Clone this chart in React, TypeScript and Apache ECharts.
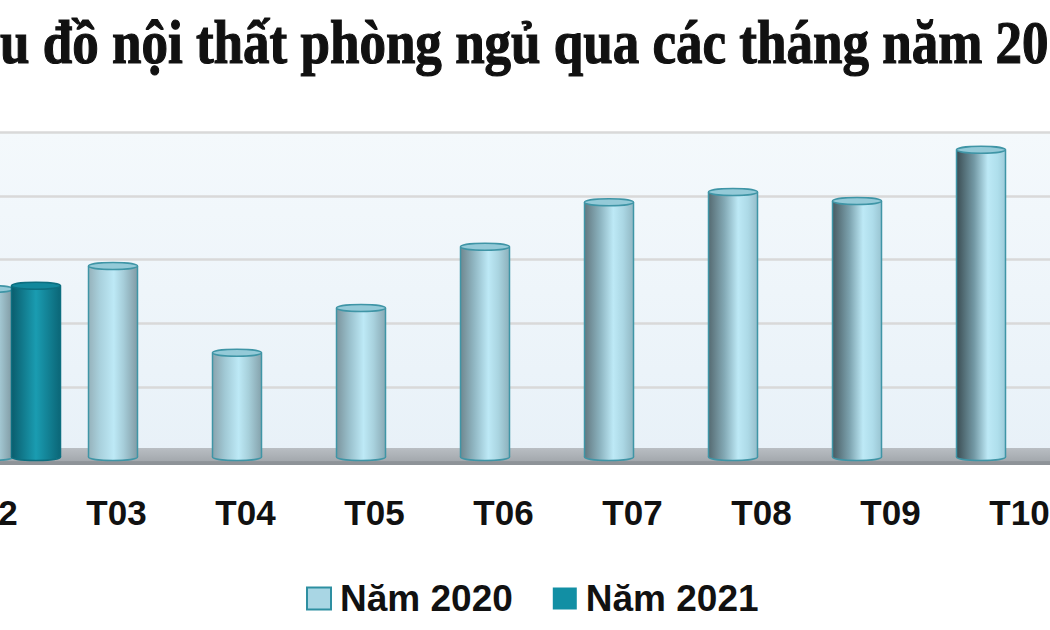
import React, { useEffect, useRef } from "react";
import * as echarts from "echarts";

const categories = ["T02", "T03", "T04", "T05", "T06", "T07", "T08", "T09", "T10", "T11"];
const values2020: (number | null)[] = [254, 290, 154, 224, 320, 390, 406, 392, 472, null];
const values2021: (number | null)[] = [259, null, null, null, null, null, null, null, null, null];
const seriesNames = ["Năm 2020", "Năm 2021"];
const titleText = "u đồ nội thất phòng ngủ qua các tháng năm 20";
const yMin = 0;
const yMax = 500;
const yInterval = 100;

const OFFSET = 200;

function hexToRgb(h: string) {
  const n = parseInt(h.slice(1), 16);
  return [(n >> 16) & 255, (n >> 8) & 255, n & 255];
}
function lerpColor(a: string, b: string, t: number) {
  const A = hexToRgb(a);
  const B = hexToRgb(b);
  const c = A.map((v, i) => Math.round(v + (B[i] - v) * t));
  return `rgb(${c[0]},${c[1]},${c[2]})`;
}

function makeRender(kind: number, offset: number) {
  return (params: any, api: any) => {
    const idx = api.value(0);
    const val = api.value(1);
    if (val == null || isNaN(val)) return null;
    const top = api.coord([idx, val]);
    const base = api.coord([idx, 0]);
    const cx = top[0] + offset;
    const w = 49;
    const x0 = cx - w / 2;
    const baseY = base[1] + 6;
    const ry = 3.5;
    const t = Math.max(0, Math.min(1, (cx - OFFSET) / 1050));
    let fill: any;
    let border: string;
    let cap: string;
    if (kind === 0) {
      const hl = 0.5 + 0.15 * t;
      fill = {
        type: "linear", x: 0, y: 0, x2: 1, y2: 0,
        colorStops: [
          { offset: 0, color: lerpColor("#a2bfc9", "#34454b", t) },
          { offset: Math.max(0.05, hl - 0.28), color: lerpColor("#b0d8e4", "#6f95a1", t) },
          { offset: hl, color: "#bde9f6" },
          { offset: Math.min(0.95, hl + 0.2), color: lerpColor("#a5cbd6", "#b0e0ee", t) },
          { offset: 1, color: lerpColor("#7d959e", "#9fcfdd", t) },
        ],
      };
      border = "#3f95a6";
      cap = "#94cad8";
    } else {
      fill = {
        type: "linear", x: 0, y: 0, x2: 1, y2: 0,
        colorStops: [
          { offset: 0, color: "#0a5d6d" },
          { offset: 0.5, color: "#1a9cb1" },
          { offset: 1, color: "#0b6677" },
        ],
      };
      border = "#0d6f80";
      cap = "#13889c";
    }
    return {
      type: "group",
      children: [
        { type: "ellipse", shape: { cx, cy: baseY, rx: w / 2, ry }, style: { fill, stroke: border, lineWidth: 1.5 } },
        { type: "rect", shape: { x: x0, y: top[1], width: w, height: baseY - top[1] }, style: { fill } },
        { type: "line", shape: { x1: x0, y1: top[1], x2: x0, y2: baseY }, style: { stroke: border, lineWidth: 1.5 } },
        { type: "line", shape: { x1: x0 + w, y1: top[1], x2: x0 + w, y2: baseY }, style: { stroke: border, lineWidth: 1.5 } },
        { type: "ellipse", shape: { cx, cy: top[1], rx: w / 2, ry }, style: { fill: cap, stroke: border, lineWidth: 1.5 } },
      ],
    };
  };
}

export default function App() {
  const ref = useRef<HTMLDivElement>(null);
  useEffect(() => {
    if (!ref.current) return;
    const chart = echarts.init(ref.current, null, { renderer: "svg" });
    const option: any = {
      animation: false,
      backgroundColor: "#ffffff",
      grid: [
        {
          left: OFFSET - 73,
          width: 1240,
          top: 132,
          height: 319,
          show: true,
          borderWidth: 0,
          backgroundColor: {
            type: "linear", x: 0, y: 0, x2: 0, y2: 1,
            colorStops: [
              { offset: 0, color: "#f4f9fc" },
              { offset: 1, color: "#e8f1f8" },
            ],
          },
        },
        {
          // perspective label row: labels drift right as in the 3D original
          left: OFFSET - 77,
          width: 1290,
          top: 132,
          height: 319,
          show: false,
        },
      ],
      legend: {
        left: OFFSET + 301,
        top: 575,
        itemWidth: 24,
        itemHeight: 22,
        itemGap: 40,
        textStyle: { fontSize: 37, fontWeight: "bold", color: "#111", fontFamily: "Liberation Sans", padding: [0, 0, 0, 4] },
        data: [
          { name: seriesNames[0], icon: "rect", itemStyle: { color: "#a9d6e4", borderColor: "#2e8fa1", borderWidth: 2 } },
          { name: seriesNames[1], icon: "rect", itemStyle: { color: "#128fa4", borderColor: "#128fa4", borderWidth: 0 } },
        ],
      },
      xAxis: [
        {
          type: "category",
          gridIndex: 0,
          data: categories,
          boundaryGap: true,
          axisLine: { show: false },
          axisTick: { show: false },
          splitLine: { show: false },
          axisLabel: { show: false },
        },
        {
          type: "category",
          gridIndex: 1,
          data: categories,
          boundaryGap: true,
          axisLine: { show: false },
          axisTick: { show: false },
          splitLine: { show: false },
          axisLabel: { fontSize: 35, fontWeight: "bold", color: "#111", fontFamily: "Liberation Sans", margin: 44 },
        },
      ],
      yAxis: [
        {
          type: "value",
          gridIndex: 0,
          min: yMin,
          max: yMax,
          interval: yInterval,
          axisLabel: { show: false },
          axisLine: { show: false },
          axisTick: { show: false },
          splitLine: { lineStyle: { color: "#d9d9d9", width: 2.5 } },
        },
        {
          type: "value",
          gridIndex: 1,
          min: yMin,
          max: yMax,
          interval: yInterval,
          show: false,
          splitLine: { show: false },
        },
      ],
      graphic: [
        {
          type: "rect",
          z: 1,
          shape: { x: 0, y: 448, width: 1450, height: 17 },
          style: {
            fill: {
              type: "linear", x: 0, y: 0, x2: 0, y2: 1,
              colorStops: [
                { offset: 0, color: "#b9bec3" },
                { offset: 0.75, color: "#a4a9ae" },
                { offset: 0.8, color: "#8e9398" },
                { offset: 1, color: "#8e9398" },
              ],
            },
          },
        },
        {
          type: "text",
          x: OFFSET + 0,
          y: 42,
          scaleX: 0.855,
          style: {
            text: titleText,
            font: 'bold 62px "Liberation Serif"',
            fill: "#111",
            stroke: "#111",
            lineWidth: 1.2,
            verticalAlign: "middle",
          },
        },
      ],
      series: [
        {
          name: seriesNames[0],
          type: "custom",
          z: 3,
          xAxisIndex: 0,
          yAxisIndex: 0,
          itemStyle: { color: "#a9d6e4" },
          encode: { x: 0, y: 1 },
          data: values2020.map((v, i) => [i, v]),
          renderItem: makeRender(0, 0),
        },
        {
          name: seriesNames[1],
          type: "custom",
          z: 4,
          xAxisIndex: 0,
          yAxisIndex: 0,
          itemStyle: { color: "#128fa4" },
          encode: { x: 0, y: 1 },
          data: values2021.map((v, i) => [i, v]),
          renderItem: makeRender(1, 47),
        },
      ],
    };
    chart.setOption(option);
    return () => chart.dispose();
  }, []);
  return (
    <div
      ref={ref}
      style={{ position: "fixed", left: -OFFSET, top: 0, width: 1450, height: 630 }}
    />
  );
}
